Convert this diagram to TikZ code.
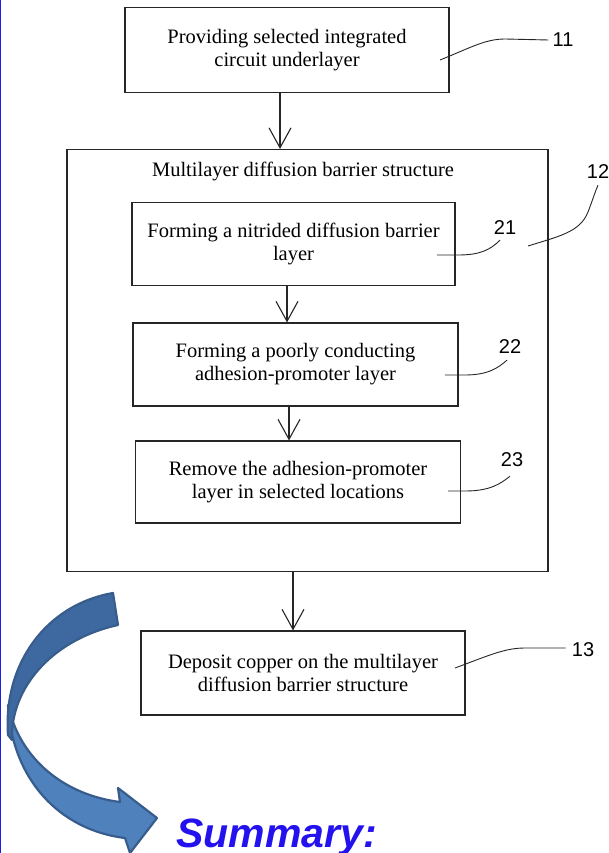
\documentclass[tikz,border=0pt]{standalone}
\usepackage{fontspec}
\setmainfont{Liberation Serif}
\newfontfamily\numfont{Liberation Sans}
\usetikzlibrary{arrows.meta,calc}

\definecolor{titleblue}{RGB}{36,18,238}
\definecolor{edgeblue}{RGB}{30,30,225}
\definecolor{arrowdark}{RGB}{62,105,160}
\definecolor{arrowlight}{RGB}{79,129,189}
\definecolor{arrowline}{RGB}{56,93,140}

\begin{document}
\begin{tikzpicture}[x=1pt,y=-1pt,
  box/.style={draw=black!85, line width=1.1pt, align=center,
    font=\fontsize{20.5}{23}\selectfont, inner sep=0pt},
  flow/.style={draw=black!85, line width=1.1pt,
    -{Straight Barb[length=20pt,width=22pt,line width=1.1pt]}},
  lead/.style={draw=black!85, line width=0.9pt},
  num/.style={font=\numfont\fontsize{20}{20}\selectfont, inner sep=1pt}]

% page
\fill[white] (0,0) rectangle (609,853);
\useasboundingbox (0,0) rectangle (609,853);
\draw[edgeblue, line width=1.4pt] (0.7,0) -- (0.7,853);

% process boxes
\node[box, minimum width=324pt, minimum height=85pt] (b11) at (287,50)
  {Providing selected integrated\\circuit underlayer};
\node[draw=black!85, line width=1.1pt, minimum width=481pt, minimum height=422pt,
  inner sep=0pt] (outer) at (307.5,360.5) {};
\node[anchor=base, inner sep=0pt, font=\fontsize{20.5}{23}\selectfont] (otitle) at (303,177)
  {Multilayer diffusion barrier structure};
\node[box, minimum width=323pt, minimum height=83pt] (b21) at (293.5,244)
  {Forming a nitrided diffusion barrier\\layer};
\node[box, minimum width=325pt, minimum height=83pt] (b22) at (295.5,364.5)
  {Forming a poorly conducting\\adhesion-promoter layer};
\node[box, minimum width=325pt, minimum height=82pt] (b23) at (298,482)
  {Remove the adhesion-promoter\\layer in selected locations};
\node[box, minimum width=324pt, minimum height=84pt] (b13) at (303,673)
  {Deposit copper on the multilayer\\diffusion barrier structure};

% flow arrows
\coordinate (f1) at ([xshift=-7pt]b11.south);
\coordinate (f2) at ([xshift=-6.5pt]b21.south);
\coordinate (f3) at ([xshift=-6.5pt]b22.south);
\coordinate (f4) at ([xshift=-14.5pt]outer.south);
\draw[flow] (f1) -- (f1 |- outer.north);
\draw[flow] (f2) -- (f2 |- b22.north);
\draw[flow] (f3) -- (f3 |- b23.north);
\draw[flow] (f4) -- (f4 |- b13.north);

% reference numerals
\node[num] (l11) at (563,40) {11};
\node[num] (l12) at (598,172) {12};
\node[num] (l21) at (505,228) {21};
\node[num] (l22) at (510,347) {22};
\node[num] (l23) at (512,460) {23};
\node[num] (l13) at (583,650) {13};

% leader lines
\coordinate (s11) at (440,60);
\coordinate (s12) at (528,246);
\coordinate (s21) at (437,255);
\coordinate (s22) at (445,375);
\coordinate (s23) at (448,491);
\coordinate (s13) at (455,668);
\draw[lead] (s11) .. controls (470,48) and (485,39) .. (505,39) -- ([xshift=-3pt]l11.west);
\draw[lead] (s12) .. controls (560,236) and (580,232) .. (588,212)
  .. controls (593,199) and (595,192) .. ([yshift=-5pt]l12.south);
\draw[lead] (s21) -- (458,255) .. controls (480,255) and (490,250) .. ([xshift=-5pt,yshift=-4pt]l21.south);
\draw[lead] (s22) -- (465,375) .. controls (488,375) and (498,368) .. ([xshift=-3pt,yshift=-5pt]l22.south);
\draw[lead] (s23) -- (465,491) .. controls (490,491) and (500,484) .. ([xshift=-2pt,yshift=-8pt]l23.south);
\draw[lead] (s13) .. controls (490,655) and (505,648) .. (525,648) -- ([xshift=-5pt,yshift=2pt]l13.west);

% curved block arrow
\filldraw[fill=arrowlight, draw=arrowline, line width=2.2pt, line join=round]
  (8,705) .. controls (12,780) and (60,830) .. (125,838)
  -- (130,853) -- (157,818) -- (118,788) -- (120,802)
  .. controls (65,795) and (20,760) .. (8,705) -- cycle;
\filldraw[fill=arrowdark, draw=arrowline, line width=2.2pt, line join=round]
  (113,593) .. controls (45,605) and (3,665) .. (8,735)
  -- (12,740) .. controls (10,690) and (50,640) .. (118,625) -- cycle;

\node[anchor=base west, inner sep=0pt, text=titleblue,
  font=\numfont\bfseries\itshape\fontsize{41}{41}\selectfont] (summary) at (176,847) {Summary:};
\end{tikzpicture}
\end{document}
